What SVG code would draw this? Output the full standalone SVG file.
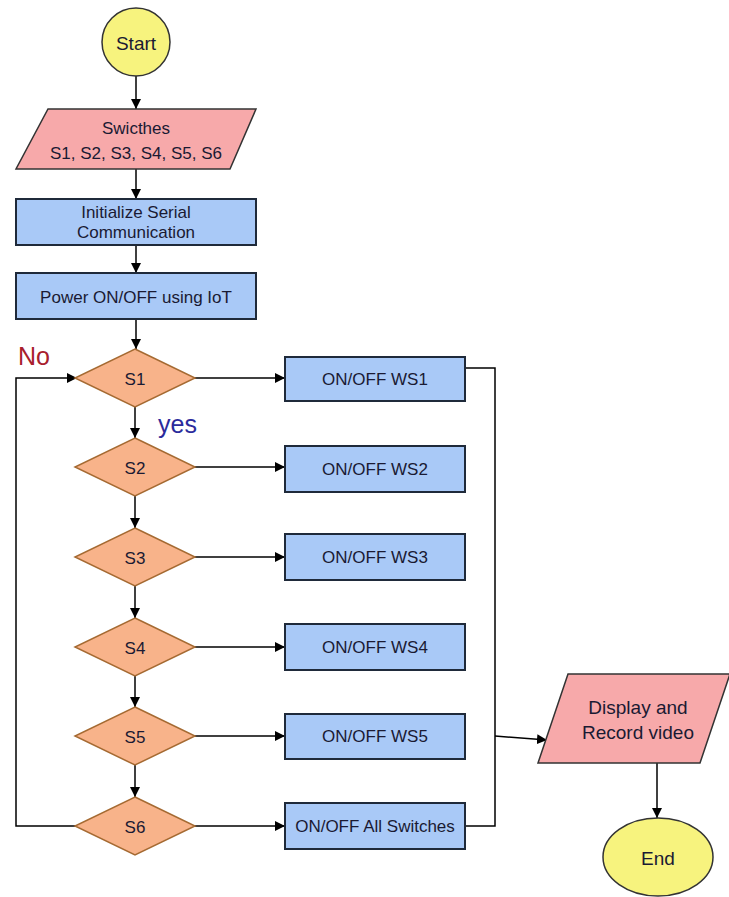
<svg xmlns="http://www.w3.org/2000/svg" width="729" height="897" viewBox="0 0 729 897">
<defs>
<marker id="arr" viewBox="0 0 10 10" refX="10" refY="5" markerWidth="10" markerHeight="10" markerUnits="userSpaceOnUse" orient="auto">
<path d="M0,0 L10,5 L0,10 z" fill="#000"/>
</marker>
<style>
.term{fill:#f7f37e;stroke:#333;stroke-width:1.5}
.io{fill:#f7a9aa;stroke:#333;stroke-width:1.5}
.proc{fill:#a9c9f7;stroke:#1f2a3a;stroke-width:2}
.dec{fill:#f8b38a;stroke:#a56a32;stroke-width:1.5}
.t{font-family:"Liberation Sans",Arial,sans-serif;font-size:17px;fill:#1a1a33;text-anchor:middle;dominant-baseline:central}
.big{font-size:19px}
.con{fill:none;stroke:#000;stroke-width:1.5}
</style>
</defs>
<rect width="729" height="897" fill="#fff"/>
<g id="connectors">
<line class="con" x1="136" y1="76" x2="136" y2="109" marker-end="url(#arr)"/>
<line class="con" x1="136" y1="169" x2="136" y2="199" marker-end="url(#arr)"/>
<line class="con" x1="136" y1="245" x2="136" y2="273" marker-end="url(#arr)"/>
<line class="con" x1="136" y1="319" x2="136" y2="349" marker-end="url(#arr)"/>
<line class="con" x1="135" y1="407" x2="135" y2="438" marker-end="url(#arr)"/>
<line class="con" x1="135" y1="496" x2="135" y2="528" marker-end="url(#arr)"/>
<line class="con" x1="135" y1="586" x2="135" y2="618" marker-end="url(#arr)"/>
<line class="con" x1="135" y1="676" x2="135" y2="707" marker-end="url(#arr)"/>
<line class="con" x1="135" y1="765" x2="135" y2="797" marker-end="url(#arr)"/>
<line class="con" x1="195" y1="378" x2="285" y2="378" marker-end="url(#arr)"/>
<line class="con" x1="195" y1="467" x2="285" y2="467" marker-end="url(#arr)"/>
<line class="con" x1="195" y1="557" x2="285" y2="557" marker-end="url(#arr)"/>
<line class="con" x1="195" y1="647" x2="285" y2="647" marker-end="url(#arr)"/>
<line class="con" x1="195" y1="736" x2="285" y2="736" marker-end="url(#arr)"/>
<line class="con" x1="195" y1="826" x2="285" y2="826" marker-end="url(#arr)"/>
<polyline class="con" points="75,826 16,826 16,378 77,378" marker-end="url(#arr)"/>
<polyline class="con" points="465,368 495,368 495,826 465,826"/>
<line class="con" x1="495" y1="736" x2="547" y2="740" marker-end="url(#arr)"/>
<line class="con" x1="657" y1="763" x2="657" y2="818" marker-end="url(#arr)"/>
<text x="18" y="356" font-family="Liberation Sans,Arial,sans-serif" font-size="25" fill="#a8202c" dominant-baseline="central">No</text>
<text x="158" y="424" font-family="Liberation Sans,Arial,sans-serif" font-size="25" fill="#2b2b9c" dominant-baseline="central">yes</text>
</g>
<g id="start">
<circle class="term" cx="136" cy="42" r="34"/>
<text class="t big" x="136" y="43">Start</text>
</g>
<g id="switches">
<polygon class="io" points="48,109 256,109 230,169 16,169"/>
<text class="t" x="136" y="128">Swicthes</text>
<text class="t" x="136" y="153">S1, S2, S3, S4, S5, S6</text>
</g>
<g id="init">
<rect class="proc" x="16" y="199" width="240" height="46"/>
<text class="t" x="136" y="212">Initialize Serial</text>
<text class="t" x="136" y="232">Communication</text>
</g>
<g id="power">
<rect class="proc" x="16" y="273" width="240" height="46"/>
<text class="t" x="136" y="297">Power ON/OFF using IoT</text>
</g>
<g id="s1"><polygon class="dec" points="135,349 195,378 135,407 75,378"/><text class="t" x="135" y="379">S1</text></g>
<g id="s2"><polygon class="dec" points="135,438 195,467 135,496 75,467"/><text class="t" x="135" y="468">S2</text></g>
<g id="s3"><polygon class="dec" points="135,528 195,557 135,586 75,557"/><text class="t" x="135" y="558">S3</text></g>
<g id="s4"><polygon class="dec" points="135,618 195,647 135,676 75,647"/><text class="t" x="135" y="648">S4</text></g>
<g id="s5"><polygon class="dec" points="135,707 195,736 135,765 75,736"/><text class="t" x="135" y="737">S5</text></g>
<g id="s6"><polygon class="dec" points="135,797 195,826 135,855 75,826"/><text class="t" x="135" y="827">S6</text></g>
<g id="ws1"><rect class="proc" x="285" y="357" width="180" height="44"/><text class="t" x="375" y="379">ON/OFF WS1</text></g>
<g id="ws2"><rect class="proc" x="285" y="446" width="180" height="46"/><text class="t" x="375" y="469">ON/OFF WS2</text></g>
<g id="ws3"><rect class="proc" x="285" y="534" width="180" height="46"/><text class="t" x="375" y="557">ON/OFF WS3</text></g>
<g id="ws4"><rect class="proc" x="285" y="624" width="180" height="46"/><text class="t" x="375" y="647">ON/OFF WS4</text></g>
<g id="ws5"><rect class="proc" x="285" y="714" width="180" height="45"/><text class="t" x="375" y="736">ON/OFF WS5</text></g>
<g id="wsall"><rect class="proc" x="285" y="803" width="180" height="46"/><text class="t" x="375" y="826">ON/OFF All Switches</text></g>
<g id="display">
<polygon class="io" points="568,674 730,674 700,763 538,763"/>
<text class="t big" x="638" y="707" style="font-size:19px">Display and</text>
<text class="t big" x="638" y="732" style="font-size:19px">Record video</text>
</g>
<g id="end">
<ellipse class="term" cx="658" cy="857" rx="55" ry="39"/>
<text class="t big" x="658" y="858">End</text>
</g>
</svg>
